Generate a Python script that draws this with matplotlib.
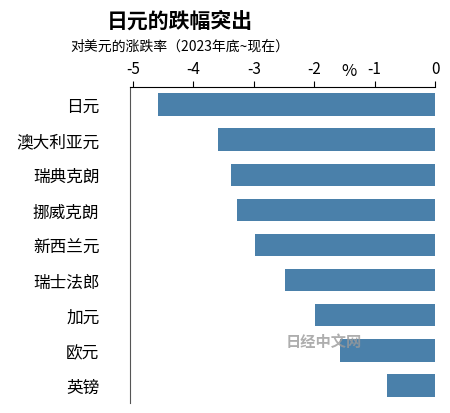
import matplotlib.pyplot as plt

plt.rcParams['font.family'] = ['Noto Sans CJK SC', 'DejaVu Sans']

currencies = ["日元", "澳大利亚元", "瑞典克朗", "挪威克朗", "新西兰元",
              "瑞士法郎", "加元", "欧元", "英镑"]
changes = [-4.59, -3.59, -3.38, -3.28, -2.98, -2.48, -1.99, -1.57, -0.79]
ticks = [-5, -4, -3, -2, -1, 0]

fig = plt.figure(figsize=(4.5, 4.14), dpi=100)
ax = fig.add_axes([130 / 450, 10 / 414, 305 / 450, 316 / 414])

y = range(len(currencies))
ax.barh(y, changes, height=0.64, color="#4a80aa")
ax.set_ylim(len(currencies) - 0.5, -0.5)
ax.set_xlim(-5.05, 0)
ax.set_yticks(list(y))
ax.set_yticklabels(currencies, fontsize=12)
ax.set_xticks(ticks)
ax.set_xticklabels([str(t) for t in ticks], fontsize=11)
ax.xaxis.tick_top()
ax.tick_params(axis="y", length=0, pad=22)
ax.tick_params(axis="x", length=4, direction="out")
for s in ["right", "bottom"]:
    ax.spines[s].set_visible(False)
ax.spines["left"].set_color("#555555")
ax.text(-1.43, -0.72, "%", fontsize=12, ha="center", va="bottom")

fig.text(0.40, 0.975, "日元的跌幅突出", fontsize=15, fontweight="bold",
         ha="center", va="top")
fig.text(0.40, 0.905, "对美元的涨跌率（2023年底~现在）", fontsize=10,
         ha="center", va="top")
# 水印
fig.text(0.72, 0.175, "日经中文网", fontsize=11, fontweight="bold",
         color="#9a9a9a", ha="center", va="center", alpha=0.8)

fig.savefig("out.png", dpi=100)
